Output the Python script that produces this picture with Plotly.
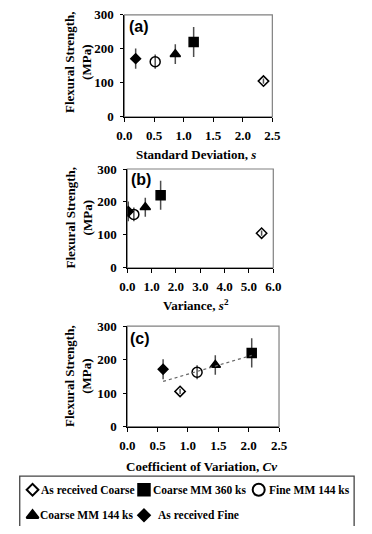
import numpy as np
import plotly.graph_objects as go

W, H = 372, 534

# ---- data ----
materials = ["As received Coarse", "Coarse MM 360 ks", "Fine MM 144 ks",
             "Coarse MM 144 ks", "As received Fine"]
strength = [105, 220, 162, 184, 171]          # MPa
strength_err = [8, 44, 21, 29, 30]            # MPa
std_dev = [2.35, 1.17, 0.52, 0.86, 0.19]      # s
variance = [5.52, 1.37, 0.27, 0.74, 0.04]     # s^2
coef_var = [0.87, 2.05, 1.15, 1.45, 0.59]     # Cv

x_ticks_a = [0.0, 0.5, 1.0, 1.5, 2.0, 2.5]
x_ticks_b = [0.0, 1.0, 2.0, 3.0, 4.0, 5.0, 6.0]
x_ticks_c = [0.0, 0.5, 1.0, 1.5, 2.0, 2.5]
y_ticks = [0, 100, 200, 300]

# ---- styles / layout constants ----
symbols = ["diamond-open", "square", "circle-open", "triangle-up", "diamond"]
sizes = [8, 9, 10, 9, 7.5]
leg_sizes = [9, 11.5, 12, 10.5, 9]
leg_col_px = [25.7, 142.5, 262.7]          # legend swatch columns (pixels)
leg_row_px = [496.7, 523.0]                # legend rows (pixels)
leg_text_gap = [8.0, 8.0, 9.5, 7.0, 14.0]  # swatch centre -> text start
LEG_TOP = 476                              # top of legend overlay area (px)
SERIF = "Liberation Serif"
SANS = "Liberation Sans"


def px_x(p):
    return p / W


def px_y(p):
    return 1 - p / H


panels = [
    dict(xa="x", ya="y", xd=[px_x(122), px_x(277)], yd=[px_y(113), px_y(8)],
         xv=std_dev, rng=[0, 2.5], ticks=x_ticks_a,
         title="Standard Deviation, <i>s</i>", tx=197, ty=152,
         lab="(a)", lx=125, ly=20, yc=57),
    dict(xa="x2", ya="y2", xd=[px_x(125), px_x(278)], yd=[px_y(268.3), px_y(166.7)],
         xv=variance, rng=[0, 6], ticks=x_ticks_b,
         title="Variance, <i>s</i><sup>2</sup>", tx=197, ty=306.7,
         lab="(b)", lx=127, ly=178, yc=217),
    dict(xa="x3", ya="y3", xd=[px_x(125), px_x(284)], yd=[px_y(431.7), px_y(328.3)],
         xv=coef_var, rng=[0, 2.5], ticks=x_ticks_c,
         title="Coefficient of Variation, <i>Cv</i>", tx=203, ty=472.7,
         lab="(c)", lx=126, ly=341, yc=380),
]

fig = go.Figure()

for p in panels:
    for i, m in enumerate(materials):
        fig.add_trace(go.Scatter(
            x=[p["xv"][i]], y=[strength[i]], mode="markers", name=m,
            xaxis=p["xa"], yaxis=p["ya"], showlegend=False,
            marker=dict(symbol=symbols[i], size=sizes[i], color="black",
                        line=dict(color="black", width=1.5)),
            error_y=dict(type="data", array=[strength_err[i]], visible=True,
                         color="#4d4d4d", thickness=1.5, width=0),
            hoverinfo="skip"))

# linear trend line in panel (c)
slope, intercept = np.polyfit(coef_var, strength, 1)
xt = np.array([min(coef_var), max(coef_var)])
fig.add_trace(go.Scatter(x=xt, y=slope * xt + intercept, mode="lines",
                         xaxis="x3", yaxis="y3", showlegend=False,
                         line=dict(color="#666666", width=1.2, dash="dot"),
                         hoverinfo="skip"))

annotations = []
shapes = []

# legend (drawn on a pixel-scaled axis covering the bottom strip)
for i, m in enumerate(materials):
    col, row = i % 3, i // 3
    fig.add_trace(go.Scatter(
        x=[leg_col_px[col]], y=[leg_row_px[row]], mode="markers", name=m,
        xaxis="x4", yaxis="y4", showlegend=False, hoverinfo="skip", cliponaxis=False,
        marker=dict(symbol=symbols[i], size=leg_sizes[i], color="black",
                    line=dict(color="black", width=2))))
    annotations.append(dict(text="<b>" + m + "</b>", x=leg_col_px[col] + leg_text_gap[i],
                            y=leg_row_px[row], xref="x4", yref="y4", showarrow=False,
                            xanchor="left", yanchor="middle", borderpad=0,
                            font=dict(family=SERIF, size=11.5, color="black")))
shapes.append(dict(type="rect", xref="x4", yref="y4", x0=12.3, x1=362.7,
                   y0=482.7, y1=540, line=dict(color="#444444", width=1.3)))

layout = dict(
    width=W, height=H, margin=dict(l=0, r=0, t=0, b=0),
    paper_bgcolor="white", plot_bgcolor="rgba(0,0,0,0)",
    font=dict(family=SERIF, size=13, color="black"),
    showlegend=False,
    xaxis4=dict(domain=[0, 1], range=[0, W], anchor="y4", visible=False,
                fixedrange=True),
    yaxis4=dict(domain=[0, px_y(LEG_TOP)], range=[H, LEG_TOP], anchor="x4",
                visible=False, fixedrange=True),
)

for k, p in enumerate(panels):
    sfx = "" if k == 0 else str(k + 1)
    layout["xaxis" + sfx] = dict(
        domain=p["xd"], range=p["rng"], anchor=p["ya"], tickvals=p["ticks"],
        ticktext=[f"{t:.1f}" for t in p["ticks"]], showgrid=False, zeroline=False,
        showline=True, linecolor="black", linewidth=1, ticks="outside",
        ticklen=4, tickcolor="black", ticklabelstandoff=3,
        tickfont=dict(family=SERIF, size=13, color="black", weight="bold"),
        fixedrange=True)
    layout["yaxis" + sfx] = dict(
        domain=p["yd"], range=[0, 300], anchor=p["xa"], tickvals=y_ticks,
        showgrid=False, zeroline=False, showline=True, linecolor="black",
        linewidth=1, ticks="outside", ticklen=3, tickcolor="black",
        ticklabelstandoff=4,
        tickfont=dict(family=SERIF, size=13, color="black", weight="bold"),
        fixedrange=True)
    shapes.append(dict(type="rect", xref=p["xa"] + " domain", yref=p["ya"] + " domain",
                       x0=0, x1=1, y0=0, y1=1, line=dict(color="#808080", width=1.2),
                       layer="below"))
    annotations.append(dict(text="<b>" + p["title"] + "</b>", x=px_x(p["tx"]),
                            y=px_y(p["ty"]), xref="paper", yref="paper",
                            showarrow=False, xanchor="center", yanchor="middle",
                            font=dict(family=SERIF, size=13, color="black")))
    annotations.append(dict(text="<b>Flexural Strength,<br>(MPa)</b>", x=px_x(74),
                            y=px_y(p["yc"]), xref="paper", yref="paper",
                            textangle=-90, showarrow=False, xanchor="center",
                            yanchor="middle",
                            font=dict(family=SERIF, size=13, color="black")))
    annotations.append(dict(text="<b>" + p["lab"] + "</b>", x=px_x(p["lx"]),
                            y=px_y(p["ly"]), xref="paper", yref="paper",
                            showarrow=False, xanchor="left", yanchor="middle",
                            font=dict(family=SANS, size=16, color="black")))

layout["annotations"] = annotations
layout["shapes"] = shapes
fig.update_layout(**layout)

fig.write_html("out.html", config={"displayModeBar": False, "staticPlot": True})
